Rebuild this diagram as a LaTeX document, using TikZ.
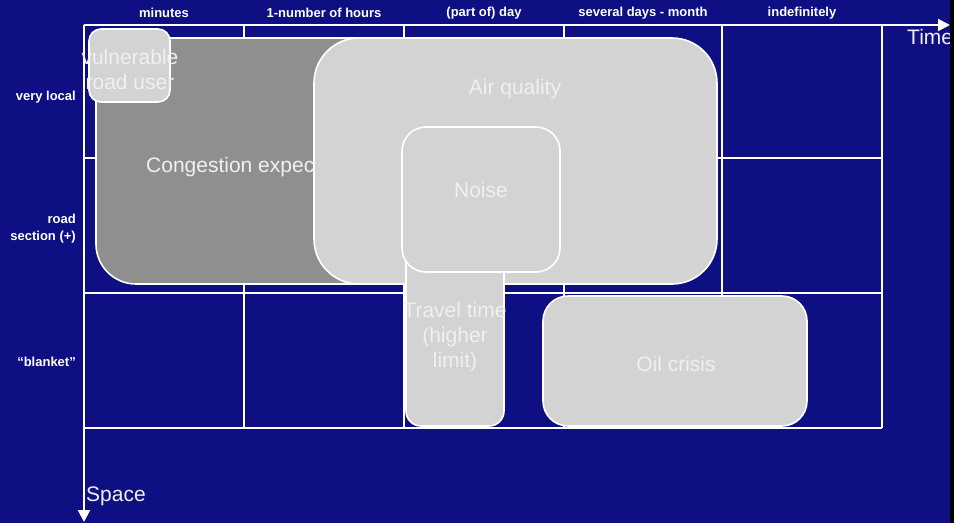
\documentclass[tikz,border=0pt]{standalone}
\usepackage{fontspec}
\setmainfont{Liberation Sans}
\usetikzlibrary{positioning}
\usetikzlibrary{arrows.meta}
\definecolor{slideblue}{RGB}{13,15,130}
\definecolor{lightbox}{RGB}{211,211,211}
\definecolor{darkbox}{RGB}{143,143,143}
\definecolor{boxtext}{RGB}{240,240,240}
\tikzstyle{grid} = [draw=white,line width=2pt]
\tikzstyle{box} = [rectangle,draw=white,line width=1.6pt,fill=lightbox,inner sep=0pt]
\tikzstyle{txt} = [text=boxtext,font=\fontsize{21}{25}\selectfont,align=center,inner sep=0pt]
\tikzstyle{head} = [text=white,font=\fontsize{13}{17}\selectfont\bfseries,inner sep=0pt]
\tikzstyle{rowlab} = [head,align=right,anchor=east]
\tikzset{>={Triangle[length=12pt,width=12pt]}}

\begin{document}
\begin{tikzpicture}[x=1pt,y=-1pt]
  \fill[slideblue] (0,0) rectangle (954,523);
  \useasboundingbox (0,0) rectangle (954,523);

  % time scale
  \node [head] (h1) at (164,13) {minutes};
  \node [head] (h2) at (324,13) {1-number of hours};
  \node [head] (h3) at (484,13) {(part of) day};
  \node [head] (h4) at (643,13) {several days - month};
  \node [head] (h5) at (802,13) {indefinitely};

  % space scale
  \node [rowlab] (r1) at (76,97) {very local};
  \node [rowlab] (r2) at (76,229) {road\\section (+)};
  \node [rowlab] (r3) at (76,362) {“blanket”};

  % grid
  \draw [grid] (84,158) -- (882,158);
  \draw [grid] (84,293) -- (882,293);
  \draw [grid] (84,428) -- (882,428);
  \draw [grid] (244,25) -- (244,428);
  \draw [grid] (404,25) -- (404,428);
  \draw [grid] (564,25) -- (564,428);
  \draw [grid] (722,25) -- (722,428);
  \draw [grid] (882,25) -- (882,428);

  % axes
  \coordinate (o) at (84,25);
  \coordinate (tend) at (950,25);
  \coordinate (send) at (84,522);
  \draw [grid,->] (o) -- (tend);
  \draw [grid,->] (o) -- (send);
  \node [txt,anchor=west] (timelab) at (907,37) {Time};
  \node [txt,anchor=west] (spacelab) at (86,496) {Space};

  % effects
  \node [box,fill=darkbox,rounded corners=40pt,minimum width=324pt,minimum height=246pt] (congbox) at (258,161) {};
  \node [txt,anchor=west] (congtxt) at (146,167) {Congestion expectation};
  \node [box,rounded corners=12pt,minimum width=81pt,minimum height=73pt] (vrubox) at (129.5,65.5) {};
  \node [txt] (vrutxt) at (130,69.5) {vulnerable\\road user};
  \node [box,rounded corners=45pt,minimum width=403pt,minimum height=246pt] (airbox) at (515.5,161) {};
  \node [txt] (airtxt) at (515,89) {Air quality};
  \node [box,rounded corners=15pt,minimum width=98pt,minimum height=186pt] (travelbox) at (455,333) {};
  \node [txt] (traveltxt) at (455,337) {Travel time\\(higher\\limit)};
  \node [box,rounded corners=24pt,minimum width=158pt,minimum height=145pt] (noisebox) at (481,199.5) {};
  \node [txt] (noisetxt) at (481,190) {Noise};
  \node [box,rounded corners=25pt,minimum width=264pt,minimum height=130pt] (oilbox) at (675,361) {};
  \node [txt] (oiltxt) at (676,364) {Oil crisis};

  \fill [black] (950,0) rectangle (954,523);
\end{tikzpicture}
\end{document}
